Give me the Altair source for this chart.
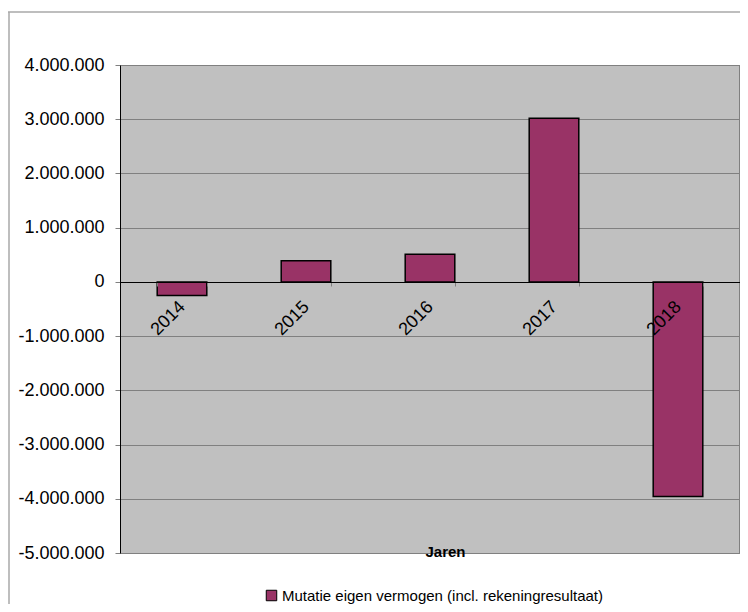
import altair as alt
import pandas as pd

years = ["2014", "2015", "2016", "2017", "2018"]
values = [-250000, 390000, 510000, 3020000, -3960000]
series_name = "Mutatie eigen vermogen (incl. rekeningresultaat)"
y_ticks = [-5000000, -4000000, -3000000, -2000000, -1000000, 0,
           1000000, 2000000, 3000000, 4000000]

df = pd.DataFrame({"Jaar": years, "Waarde": values, "Reeks": [series_name] * len(years)})

FONT = "Liberation Sans"
label_expr = ("replace(replace(replace(format(datum.value, ','), ',', '.'), ',', '.'), '\u2212', '-')")

bars = alt.Chart(df).mark_bar(stroke="black", strokeWidth=1.5).encode(
    x=alt.X("Jaar:N", sort=years,
            scale=alt.Scale(paddingInner=0.6, paddingOuter=0.3),
            axis=alt.Axis(orient="bottom", offset=-271, zindex=1,
                          tickBand="extent", tickSize=4, tickColor="#808080",
                          domainColor="black", domainWidth=1,
                          labelAngle=315, labelAlign="right", labelBaseline="middle",
                          labelPadding=18, labelFontSize=18, labelFont=FONT,
                          labelColor="black", labelOverlap=False, labelFlush=False,
                          title="Jaren", titleFont=FONT, titleFontSize=15,
                          titleFontWeight="bold", titleColor="black",
                          titleX=325, titleY=274, titleAlign="center",
                          titleBaseline="alphabetic")),
    y=alt.Y("Waarde:Q",
            scale=alt.Scale(domain=[-5000000, 4000000], nice=False, zero=False),
            axis=alt.Axis(values=y_ticks, labelExpr=label_expr, title=None,
                          tickSize=5, tickColor="#808080", labelPadding=11,
                          labelFontSize=18, labelFont=FONT, labelColor="black",
                          domainColor="black", grid=True, gridColor="#808080",
                          gridWidth=1, zindex=0)),
    color=alt.Color("Reeks:N", scale=alt.Scale(range=["#993366"]),
                    legend=alt.Legend(title=None, orient="none", legendX=144,
                                      legendY=523, symbolType="square",
                                      symbolSize=110, symbolStrokeColor="black",
                                      symbolStrokeWidth=1, labelFontSize=15,
                                      labelFont=FONT, labelColor="black",
                                      labelOffset=3, padding=0, labelLimit=600)),
)

one = pd.DataFrame({"k": [0]})
border_left = alt.Chart(one).mark_rule(color="#a8a8a8", strokeWidth=1.5).encode(
    x=alt.value(-111), y=alt.value(-53), y2=alt.value(620))
border_top = alt.Chart(one).mark_rule(color="#a8a8a8", strokeWidth=1.5).encode(
    x=alt.value(-112), x2=alt.value(700), y=alt.value(-53))
right_edge = alt.Chart(one).mark_rule(color="#808080", strokeWidth=2).encode(
    x=alt.value(620), y=alt.value(0), y2=alt.value(488))

chart = alt.layer(bars, border_left, border_top, right_edge).properties(
    width=620, height=488,
    padding={"left": 112, "top": 57, "right": 0, "bottom": 51},
    autosize=alt.AutoSizeParams(type="none"),
    background="white",
).configure_view(fill="#c0c0c0", stroke="#808080", strokeWidth=1)

chart.save("out.html", embed_options={"renderer": "svg", "actions": False})
